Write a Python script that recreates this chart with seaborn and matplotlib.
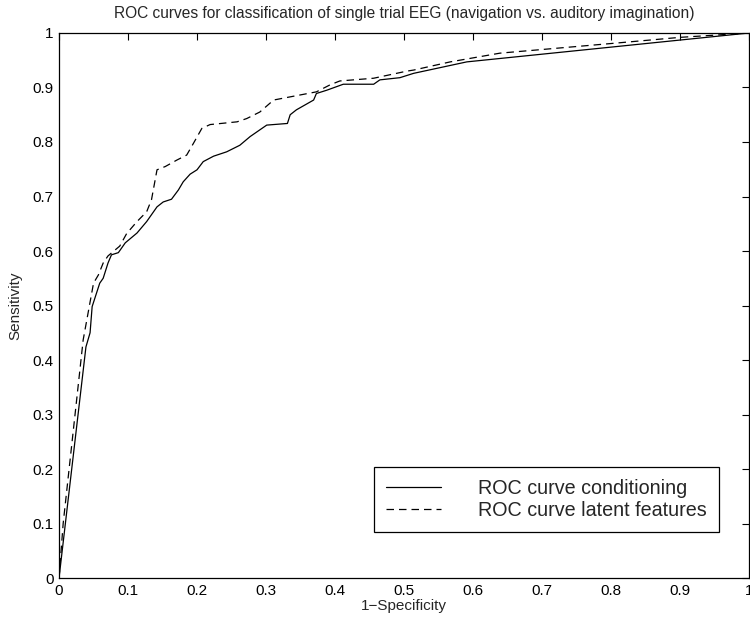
import numpy as np
import pandas as pd
import matplotlib
matplotlib.use("Agg")
import matplotlib.pyplot as plt
import seaborn as sns

# Data
cond_fpr = [0.0, 0.039, 0.045, 0.048, 0.059, 0.064, 0.071, 0.076, 0.086, 0.096, 0.113, 0.127,
            0.142, 0.151, 0.163, 0.173, 0.180, 0.190, 0.200, 0.209, 0.224, 0.243, 0.262, 0.277,
            0.301, 0.331, 0.335, 0.344, 0.369, 0.373, 0.388, 0.412, 0.456, 0.465, 0.494, 0.514,
            0.591, 1.0]
cond_tpr = [0.0, 0.424, 0.450, 0.498, 0.541, 0.550, 0.578, 0.593, 0.597, 0.615, 0.633, 0.654,
            0.681, 0.690, 0.695, 0.712, 0.727, 0.741, 0.749, 0.764, 0.774, 0.782, 0.794, 0.810,
            0.831, 0.834, 0.850, 0.859, 0.877, 0.889, 0.895, 0.906, 0.906, 0.914, 0.918, 0.926,
            0.947, 1.0]

lat_fpr = [0.0, 0.006, 0.035, 0.050, 0.057, 0.064, 0.071, 0.088, 0.098, 0.113, 0.127, 0.134,
           0.142, 0.154, 0.171, 0.185, 0.195, 0.207, 0.219, 0.258, 0.272, 0.291, 0.311, 0.373,
           0.393, 0.407, 0.456, 0.504, 0.514, 0.567, 0.639, 0.803, 0.900, 1.0]
lat_tpr = [0.0, 0.100, 0.437, 0.541, 0.556, 0.578, 0.591, 0.609, 0.632, 0.654, 0.672, 0.694,
           0.749, 0.755, 0.767, 0.776, 0.798, 0.825, 0.832, 0.837, 0.843, 0.855, 0.877, 0.892,
           0.905, 0.912, 0.917, 0.930, 0.932, 0.947, 0.963, 0.981, 0.992, 1.0]

labels = ["ROC curve conditioning", "ROC curve latent features"]
x_ticks = [0, 0.1, 0.2, 0.3, 0.4, 0.5, 0.6, 0.7, 0.8, 0.9, 1]
tick_labels = ["0", "0.1", "0.2", "0.3", "0.4", "0.5", "0.6", "0.7", "0.8", "0.9", "1"]

df = pd.concat([
    pd.DataFrame({"fpr": cond_fpr, "tpr": cond_tpr, "curve": labels[0], "order": range(len(cond_fpr))}),
    pd.DataFrame({"fpr": lat_fpr, "tpr": lat_tpr, "curve": labels[1], "order": range(len(lat_fpr))}),
])

sns.set_style("white")
plt.rcParams["font.family"] = ["Liberation Sans", "DejaVu Sans"]

fig = plt.figure(figsize=(7.5, 6.19), dpi=100)
ax = fig.add_axes([0.0787, 0.0662, 0.92, 0.8805])

sns.lineplot(data=df, x="fpr", y="tpr", hue="curve", style="curve",
             palette=["black", "black"], dashes=[(None, None), (6, 4)],
             sort=False, estimator=None, linewidth=0.9, ax=ax)

ax.set_xlim(0, 1)
ax.set_ylim(0, 1)
ax.set_xticks(x_ticks)
ax.set_xticklabels(tick_labels)
ax.set_yticks(x_ticks)
ax.set_yticklabels(tick_labels)
ax.tick_params(direction="in", length=5, width=0.8, top=True, right=True,
               labelsize=11, pad=4, colors="black")
for s in ax.spines.values():
    s.set_color("black")
    s.set_linewidth(0.9)

ax.set_xlabel("1\u2212Specificity", fontsize=11, labelpad=1)
ax.set_ylabel("Sensitivity", fontsize=11, labelpad=7)
ax.set_title("ROC curves for classification of single trial EEG (navigation vs. auditory imagination)",
             fontsize=11.2, pad=11)

leg = ax.legend(loc="lower right", bbox_to_anchor=(0.9565, 0.0844), borderaxespad=0,
                fontsize=14.2, frameon=True, fancybox=False, edgecolor="black", framealpha=1,
                handlelength=2.8, handletextpad=1.9, borderpad=0.6, labelspacing=0.15)
leg.get_frame().set_linewidth(0.9)

fig.savefig("out.png", dpi=100)
